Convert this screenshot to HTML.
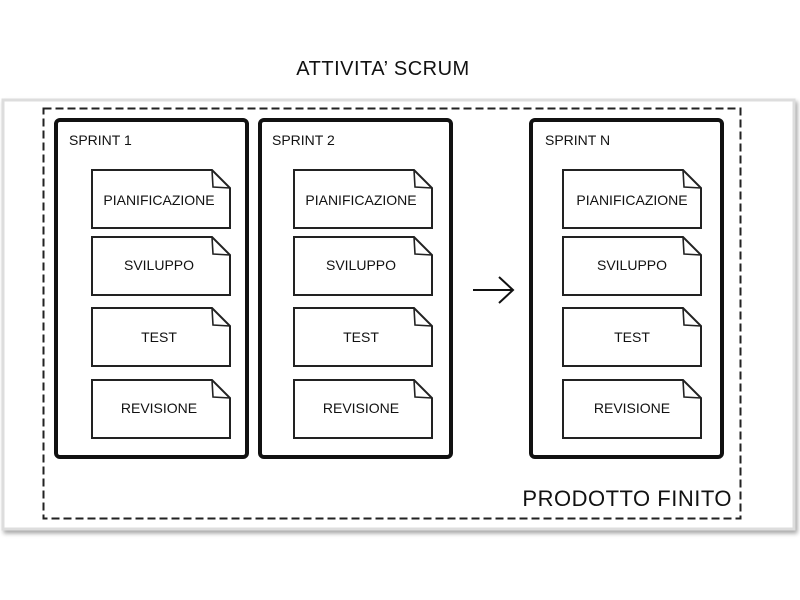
<!DOCTYPE html>
<html><head><meta charset="utf-8"><style>
html,body{margin:0;padding:0;background:#fff;}
svg{display:block;}
text{font-family:"Liberation Sans",sans-serif;fill:#111;}
</style></head><body>
<svg width="800" height="600" viewBox="0 0 800 600" xmlns="http://www.w3.org/2000/svg">
<defs>
<filter id="sh" x="-5%" y="-5%" width="110%" height="115%"><feDropShadow dx="2" dy="3" stdDeviation="2" flood-color="#000" flood-opacity="0.35"/></filter>
<g id="note"><path d="M0,0 L120,0 L138,18 L138,58 L0,58 Z" fill="#fff" stroke="#222" stroke-width="2"/><path d="M120,0 L121,17 L138,18" fill="none" stroke="#222" stroke-width="1.6"/></g>
</defs>
<text x="383" y="75" font-size="20" text-anchor="middle" letter-spacing="0.5">ATTIVITA’ SCRUM</text>
<rect x="3" y="100" width="791" height="429" fill="#fff" stroke="#ddd" stroke-width="3" filter="url(#sh)"/>
<rect x="43.5" y="108.5" width="697" height="410" fill="none" stroke="#222" stroke-width="2" stroke-dasharray="8,4"/>
<g fill="#fff" stroke="#111" stroke-width="4">
<rect x="56" y="120" width="191" height="337" rx="4"/>
<rect x="260" y="120" width="191" height="337" rx="4"/>
<rect x="531" y="120" width="191" height="337" rx="4"/>
</g>
<g font-size="14">
<text x="69" y="145">SPRINT 1</text>
<text x="272" y="145">SPRINT 2</text>
<text x="545" y="145">SPRINT N</text>
</g>
<g>
<use href="#note" x="92" y="170"/><use href="#note" x="92" y="237"/><use href="#note" x="92" y="308"/><use href="#note" x="92" y="380"/>
<use href="#note" x="294" y="170"/><use href="#note" x="294" y="237"/><use href="#note" x="294" y="308"/><use href="#note" x="294" y="380"/>
<use href="#note" x="563" y="170"/><use href="#note" x="563" y="237"/><use href="#note" x="563" y="308"/><use href="#note" x="563" y="380"/>
</g>
<g font-size="14" text-anchor="middle">
<text x="159" y="205">PIANIFICAZIONE</text><text x="159" y="270">SVILUPPO</text><text x="159" y="342">TEST</text><text x="159" y="413">REVISIONE</text>
<text x="361" y="205">PIANIFICAZIONE</text><text x="361" y="270">SVILUPPO</text><text x="361" y="342">TEST</text><text x="361" y="413">REVISIONE</text>
<text x="632" y="205">PIANIFICAZIONE</text><text x="632" y="270">SVILUPPO</text><text x="632" y="342">TEST</text><text x="632" y="413">REVISIONE</text>
</g>
<path d="M473,290 L512,290 M499,277 L513,290 L499,303" fill="none" stroke="#111" stroke-width="2"/>
<text x="732" y="506" font-size="22" text-anchor="end" letter-spacing="0.5">PRODOTTO FINITO</text>
</svg>
</body></html>
